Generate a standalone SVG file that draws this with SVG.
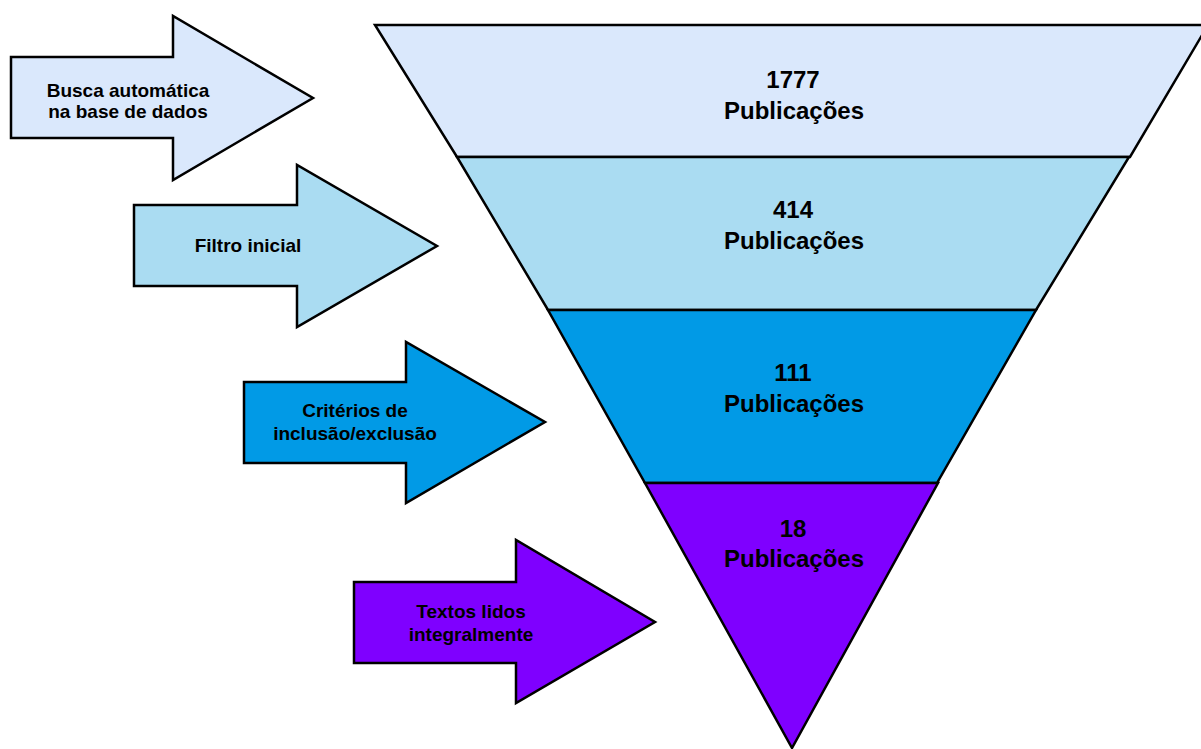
<svg xmlns="http://www.w3.org/2000/svg" width="1201" height="749" viewBox="0 0 1201 749">
<style>
.shape{stroke:#000;stroke-width:2.5;stroke-linejoin:miter}
.t1{fill:#dae8fc}.t2{fill:#aadcf2}.t3{fill:#019ae6}.t4{fill:#7f00ff}
.ft{font-family:"Liberation Sans",Arial,Helvetica,sans-serif;font-weight:bold;font-size:24px;fill:#000;text-anchor:middle}
.at{font-family:"Liberation Sans",Arial,Helvetica,sans-serif;font-weight:bold;font-size:19px;fill:#000;text-anchor:middle}
</style>
<rect width="1201" height="749" fill="#fff"/>
<g id="funnel">
<g id="stage1">
<polygon class="shape t1" points="375,25 1208,25 1130,157 457,157"/>
<text class="ft" x="793" y="88">1777</text>
<text class="ft" x="794" y="119">Publicações</text>
</g>
<g id="stage2">
<polygon class="shape t2" points="457,157 1129,157 1036,310 548,310"/>
<text class="ft" x="793" y="218">414</text>
<text class="ft" x="794" y="249">Publicações</text>
</g>
<g id="stage3">
<polygon class="shape t3" points="548,310 1036,310 937,483 645,483"/>
<text class="ft" x="793" y="381">111</text>
<text class="ft" x="794" y="412">Publicações</text>
</g>
<g id="stage4">
<polygon class="shape t4" points="645,483 938,483 792,748"/>
<text class="ft" x="793" y="537">18</text>
<text class="ft" x="794" y="567">Publicações</text>
</g>
</g>
<g id="arrow1">
<polygon class="shape t1" points="11,57 173,57 173,16 313,98 173,180 173,138 11,138"/>
<text class="at" x="128" y="97">Busca automática</text>
<text class="at" x="128" y="118">na base de dados</text>
</g>
<g id="arrow2">
<polygon class="shape t2" points="134,205 297,205 297,165 437,246 297,327 297,286 134,286"/>
<text class="at" x="248" y="252">Filtro inicial</text>
</g>
<g id="arrow3">
<polygon class="shape t3" points="244,382 406,382 406,342 545,422 406,503 406,463 244,463"/>
<text class="at" x="355" y="417">Critérios de</text>
<text class="at" x="355" y="440">inclusão/exclusão</text>
</g>
<g id="arrow4">
<polygon class="shape t4" points="354,582 516,582 516,540 655,622 516,703 516,663 354,663"/>
<text class="at" x="471" y="618">Textos lidos</text>
<text class="at" x="471" y="641">integralmente</text>
</g>
<g id="connectors"></g>
</svg>
